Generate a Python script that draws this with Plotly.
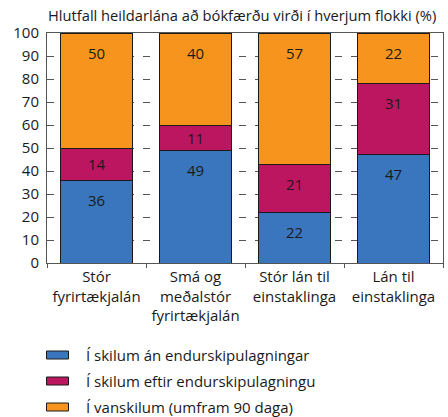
import plotly.graph_objects as go

# Loan categories and the share (%) of each repayment status
categories = [
    "Stór<br>fyrirtækjalán",
    "Smá og<br>meðalstór<br>fyrirtækjalán",
    "Stór lán til<br>einstaklinga",
    "Lán til<br>einstaklinga",
]
series_names = [
    "Í skilum án endurskipulagningar",
    "Í skilum eftir endurskipulagningu",
    "Í vanskilum (umfram 90 daga)",
]
performing = [36, 49, 22, 47]
restructured = [14, 11, 21, 31]
defaulted = [50, 40, 57, 22]
y_ticks = [0, 10, 20, 30, 40, 50, 60, 70, 80, 90, 100]
title_text = "Hlutfall heildarlána að bókfærðu virði í hverjum flokki (%)"

series_values = [performing, restructured, defaulted]
colors = ["#3A76BD", "#BC1660", "#F7941E"]
FONT = "Open Sans"
TEXT_COLOR = "#1a1a1a"

W, H = 448, 417
L, R, T, B = 47, 5, 33, 154
plot_w = W - L - R
plot_h = H - T - B


def px_x(px):
    return (px - L) / plot_w


def px_y(py):
    return (H - B - py) / plot_h


fig = go.Figure()
for name, vals, col in zip(series_names, series_values, colors):
    fig.add_trace(go.Bar(
        x=categories, y=vals, name=name,
        marker=dict(color=col, line=dict(color="#1a1a1a", width=1)),
        showlegend=False, hoverinfo="x+y+name",
    ))

# Value labels, placed near the top of each stacked segment
annotations = []
cum = [0] * len(categories)
for vals in series_values:
    for j, v in enumerate(vals):
        top = cum[j] + v
        annotations.append(dict(
            x=categories[j], y=top - min(8.5, v / 2), xref="x", yref="y",
            text=str(v), showarrow=False, yanchor="middle",
            font=dict(family=FONT, size=15, color=TEXT_COLOR),
        ))
        cum[j] = top

# Title
annotations.append(dict(
    x=px_x(46), y=px_y(15), xref="paper", yref="paper",
    text=title_text, showarrow=False, xanchor="left", yanchor="middle",
    font=dict(family=FONT, size=14.7, color=TEXT_COLOR),
))

# Legend below the chart: wide swatches with labels
shapes = []
row_y = [355, 381, 407]
for name, col, ry in zip(series_names, colors, row_y):
    shapes.append(dict(
        type="rect", xref="paper", yref="paper",
        x0=px_x(46.5), x1=px_x(68.5), y0=px_y(ry + 4), y1=px_y(ry - 4),
        fillcolor=col, line=dict(color="#1a1a1a", width=1),
    ))
    annotations.append(dict(
        x=px_x(84), y=px_y(ry), xref="paper", yref="paper",
        text=name, showarrow=False, xanchor="left", yanchor="middle",
        font=dict(family=FONT, size=15, color=TEXT_COLOR),
    ))

fig.update_layout(
    width=W, height=H, autosize=False,
    margin=dict(l=L, r=R, t=T, b=B, pad=0),
    barmode="stack", bargap=0.28,
    plot_bgcolor="white", paper_bgcolor="white",
    font=dict(family=FONT, size=15, color=TEXT_COLOR),
    annotations=annotations, shapes=shapes,
)
fig.update_xaxes(
    showgrid=False, showline=True, linecolor="#555", linewidth=1, mirror=True,
    ticks="outside", tickson="boundaries", ticklen=4, tickcolor="#555",
    tickfont=dict(family=FONT, size=15, color=TEXT_COLOR),
)
fig.update_yaxes(
    range=[0, 100], tickvals=y_ticks, showline=True, linecolor="#555",
    linewidth=1, mirror=True, zeroline=False,
    showgrid=True, gridcolor="#555", gridwidth=1, griddash="7px,9px",
    ticks="", ticklabelstandoff=4,
    tickfont=dict(family=FONT, size=15, color=TEXT_COLOR),
)

fig.write_html("out.html")
